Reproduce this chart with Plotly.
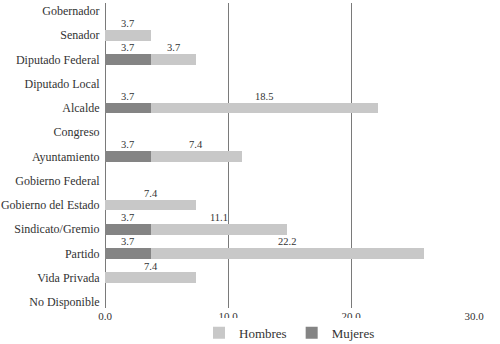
import plotly.graph_objects as go

categories = ["Gobernador", "Senador", "Diputado Federal", "Diputado Local", "Alcalde",
              "Congreso", "Ayuntamiento", "Gobierno Federal", "Gobierno del Estado",
              "Sindicato/Gremio", "Partido", "Vida Privada", "No Disponible"]
mujeres = [0, 0, 3.7, 0, 3.7, 0, 3.7, 0, 0, 3.7, 3.7, 0, 0]
hombres = [0, 3.7, 3.7, 0, 18.5, 0, 7.4, 0, 7.4, 11.1, 22.2, 7.4, 0]

FONT = "Liberation Serif"
C_H = "#c8c8c8"
C_M = "#848484"
TXT = "#333333"

fig = go.Figure()
fig.add_trace(go.Bar(y=categories, x=mujeres, orientation="h", name="Mujeres",
                     marker=dict(color=C_M, line=dict(width=0)), width=0.45,
                     legendrank=2, hoverinfo="skip"))
fig.add_trace(go.Bar(y=categories, x=hombres, orientation="h", name="Hombres",
                     marker=dict(color=C_H, line=dict(width=0)), width=0.45,
                     legendrank=1, hoverinfo="skip"))

annotations = []
for cat, m, h in zip(categories, mujeres, hombres):
    if m > 0:
        annotations.append(dict(x=m / 2, y=cat, text=f"{m:.1f}", showarrow=False,
                                yanchor="bottom", yshift=4, font=dict(family=FONT, size=10.5, color=TXT)))
    if h > 0:
        annotations.append(dict(x=m + h / 2, y=cat, text=f"{h:.1f}", showarrow=False,
                                yanchor="bottom", yshift=4, font=dict(family=FONT, size=10.5, color=TXT)))

fig.update_layout(
    barmode="stack",
    width=500, height=344,
    margin=dict(l=105, r=26, t=3, b=36, autoexpand=False),
    paper_bgcolor="white", plot_bgcolor="white",
    font=dict(family=FONT, size=12, color=TXT),
    annotations=annotations,
    showlegend=True,
    legend=dict(orientation="h", x=0.5, xanchor="center", y=-0.032, yanchor="top",
                traceorder="normal",
                font=dict(family=FONT, size=13, color=TXT), itemwidth=30,
                tracegroupgap=0),
    xaxis=dict(range=[0, 30], dtick=10, tickformat=".1f", showgrid=True,
               gridcolor="#7a7a7a", gridwidth=1, zeroline=True, zerolinecolor="#7a7a7a",
               zerolinewidth=1, ticks="", tickfont=dict(family=FONT, size=11, color=TXT),
               fixedrange=True, automargin=False),
    yaxis=dict(type="category", categoryorder="array", categoryarray=categories,
               range=[12.25, -0.33], showgrid=False, ticks="outside", ticklen=2,
               tickcolor="rgba(0,0,0,0)",
               tickfont=dict(family=FONT, size=12, color=TXT), fixedrange=True,
               automargin=False),
)

fig.write_html("out.html", config={"displayModeBar": False, "staticPlot": True},
               post_script="document.body.style.margin='0';")
